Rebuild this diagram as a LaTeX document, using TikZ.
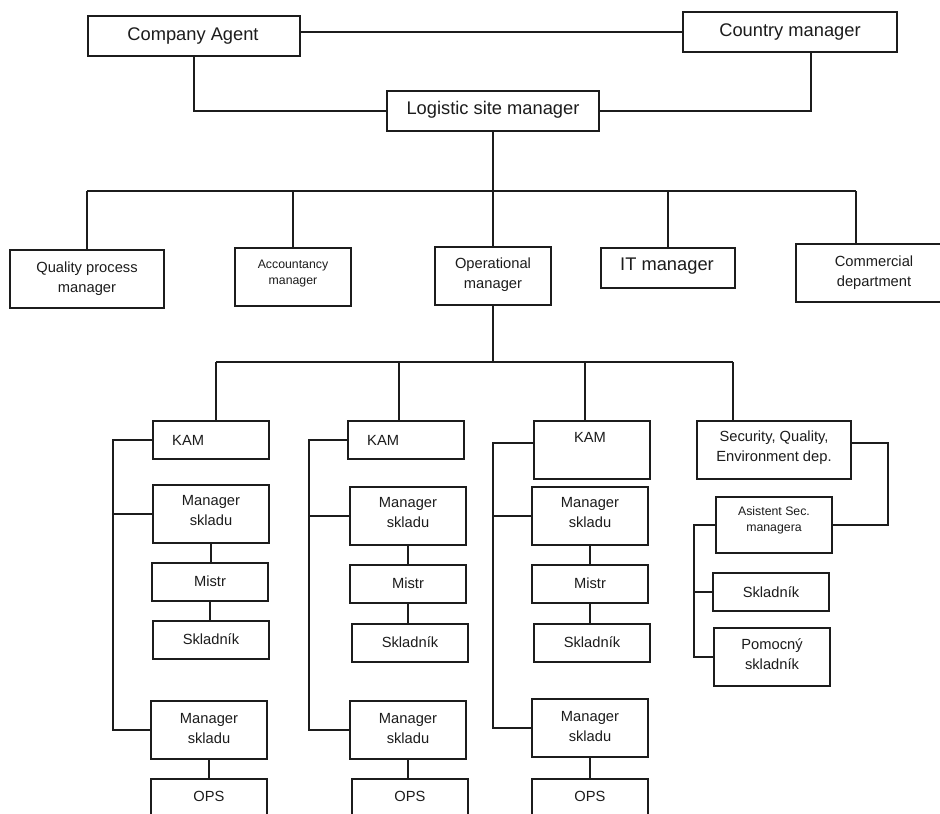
\documentclass[tikz,border=0pt]{standalone}
\usepackage{fontspec}
\setmainfont{Liberation Sans}
\definecolor{ink}{HTML}{1C1C1C}
\newcommand\fbig{\fontsize{18.3}{22}\selectfont}
\newcommand\fmid{\fontsize{14.7}{20}\selectfont}
\newcommand\fsmall{\fontsize{12.3}{16}\selectfont}
% box given by its corners (x1,y1) (x2,y2), y measured downwards
\newcommand\orgbox[5]{\node[box,minimum width={#4-#2},minimum height={#5-#3}] (#1) at ({(#2+#4)/2},{(#3+#5)/2}) {};}
\tikzset{
  box/.style={draw=ink, line width=2pt, inner sep=0pt, fill=white},
  txt/.style={inner sep=0pt, align=center, text=ink, font=\fmid},
  link/.style={draw=ink, line width=2pt},
}
\begin{document}
\begin{tikzpicture}[x=1pt,y=-1pt]
\useasboundingbox (0,0) rectangle (940,814);
\clip (0,0) rectangle (940,814);

% ---- top management
\orgbox{ca}{88}{16}{300}{56}
\orgbox{cm}{683}{12}{897}{52}
\orgbox{lsm}{387}{91}{599}{131}
\node[txt,font=\fbig] (ca-t) at (193,36) {Company Agent};
\node[txt,font=\fbig] (cm-t) at (790,32) {Country manager};
\node[txt,font=\fbig] (lsm-t) at (493,110) {Logistic site manager};

% ---- departments
\orgbox{qpm}{10}{250}{164}{308}
\orgbox{acc}{235}{248}{351}{306}
\orgbox{opm}{435}{247}{551}{305}
\orgbox{itm}{601}{248}{735}{288}
\orgbox{cd}{796}{244}{952}{302}
\node[txt] (qpm-t) at (87,279) {Quality process\\manager};
\node[txt,font=\fsmall] (acc-t) at (293,273.5) {Accountancy\\manager};
\node[txt] (opm-t) at (493,275) {Operational\\manager};
\node[txt,font=\fbig] (itm-t) at (667,266.5) {IT manager};
\node[txt] (cd-t) at (874,272.5) {Commercial\\department};

% ---- first warehouse column
\orgbox{kam1}{153}{421}{269}{459}
\orgbox{ms1a}{153}{485}{269}{543}
\orgbox{mi1}{152}{563}{268}{601}
\orgbox{sk1}{153}{621}{269}{659}
\orgbox{ms1b}{151}{701}{267}{759}
\orgbox{ops1}{151}{779}{267}{841}
\node[txt,anchor=west] (kam1-t) at (172,440) {KAM};
\node[txt] (ms1a-t) at (211,511) {Manager\\skladu};
\node[txt] (mi1-t) at (210,581) {Mistr};
\node[txt] (sk1-t) at (211,639) {Skladník};
\node[txt] (ms1b-t) at (209,728.5) {Manager\\skladu};
\node[txt] (ops1-t) at (209,796) {OPS};

% ---- second warehouse column
\orgbox{kam2}{348}{421}{464}{459}
\orgbox{ms2a}{350}{487}{466}{545}
\orgbox{mi2}{350}{565}{466}{603}
\orgbox{sk2}{352}{624}{468}{662}
\orgbox{ms2b}{350}{701}{466}{759}
\orgbox{ops2}{352}{779}{468}{841}
\node[txt,anchor=west] (kam2-t) at (367,440) {KAM};
\node[txt] (ms2a-t) at (408,513) {Manager\\skladu};
\node[txt] (mi2-t) at (408,583) {Mistr};
\node[txt] (sk2-t) at (410,642) {Skladník};
\node[txt] (ms2b-t) at (408,728.5) {Manager\\skladu};
\node[txt] (ops2-t) at (410,796) {OPS};

% ---- third warehouse column
\orgbox{kam3}{534}{421}{650}{479}
\orgbox{ms3a}{532}{487}{648}{545}
\orgbox{mi3}{532}{565}{648}{603}
\orgbox{sk3}{534}{624}{650}{662}
\orgbox{ms3b}{532}{699}{648}{757}
\orgbox{ops3}{532}{779}{648}{841}
\node[txt] (kam3-t) at (590,437) {KAM};
\node[txt] (ms3a-t) at (590,513) {Manager\\skladu};
\node[txt] (mi3-t) at (590,583) {Mistr};
\node[txt] (sk3-t) at (592,642) {Skladník};
\node[txt] (ms3b-t) at (590,726.5) {Manager\\skladu};
\node[txt] (ops3-t) at (590,796) {OPS};

% ---- security, quality, environment
\orgbox{sec}{697}{421}{851}{479}
\orgbox{asi}{716}{497}{832}{553}
\orgbox{sk4}{713}{573}{829}{611}
\orgbox{pom}{714}{628}{830}{686}
\node[txt] (sec-t) at (774,448) {Security, Quality,\\Environment dep.};
\node[txt,font=\fsmall] (asi-t) at (774,520.5) {Asistent Sec.\\managera};
\node[txt] (sk4-t) at (771,592) {Skladník};
\node[txt] (pom-t) at (772,654) {Pomocný\\skladník};

% ---- connectors: top
\draw[link] (ca.east |- cm.west) -- (cm.west);
\draw[link] (ca.south) |- (lsm.west);
\coordinate (cmdrop) at ([xshift=21]cm.south);
\draw[link] (cmdrop) |- (lsm.east);

% ---- connectors: departments
\coordinate (bus1) at (0,191);
\coordinate (cdtop) at ([xshift=-18]cd.north);
\draw[link] (lsm.south) -- (lsm.south |- opm.north);
\draw[link] (qpm.north |- bus1) -- (cdtop |- bus1);
\foreach \n in {qpm,acc,itm}
  \draw[link] (\n.north) -- (\n.north |- bus1);
\draw[link] (cdtop) -- (cdtop |- bus1);

% ---- connectors: operations
\coordinate (bus2) at (0,362);
\coordinate (k1top) at ([xshift=5]kam1.north);
\coordinate (k2top) at ([xshift=-7]kam2.north);
\coordinate (k3top) at ([xshift=-7]kam3.north);
\coordinate (sectop) at ([xshift=-41]sec.north);
\draw[link] (opm.south) -- (opm.south |- bus2);
\draw[link] (k1top |- bus2) -- (sectop |- bus2);
\foreach \c in {k1top,k2top,k3top,sectop}
  \draw[link] (\c) -- (\c |- bus2);

% ---- brackets on the left of each column
\coordinate (br1) at (113,0);
\coordinate (br2) at (309,0);
\coordinate (br3) at (493,0);
\coordinate (br4) at (694,0);
\coordinate (brs) at (888,0);
\coordinate (k3l) at ([yshift=7]kam3.west);
\coordinate (secr) at ([yshift=7]sec.east);

\draw[link] (kam1.west) -- (kam1.west -| br1) -- (ms1b.west -| br1) -- (ms1b.west);
\draw[link] (ms1a.west) -- (ms1a.west -| br1);
\draw[link] (kam2.west) -- (kam2.west -| br2) -- (ms2b.west -| br2) -- (ms2b.west);
\draw[link] (ms2a.west) -- (ms2a.west -| br2);
\draw[link] (k3l) -- (k3l -| br3) -- (ms3b.west -| br3) -- (ms3b.west);
\draw[link] (ms3a.west) -- (ms3a.west -| br3);

\draw[link] (secr) -- (secr -| brs) -- (asi.east -| brs) -- (asi.east);
\draw[link] (asi.west) -- (asi.west -| br4) -- (pom.west -| br4) -- (pom.west);
\draw[link] (sk4.west) -- (sk4.west -| br4);

% ---- vertical links inside columns
\foreach \a/\b in {ms1a/mi1,mi1/sk1,ms1b/ops1,ms2a/mi2,mi2/sk2,ms2b/ops2,ms3a/mi3,mi3/sk3,ms3b/ops3}
  \draw[link] (\a.south) -- (\a.south |- \b.north);
\end{tikzpicture}
\end{document}
